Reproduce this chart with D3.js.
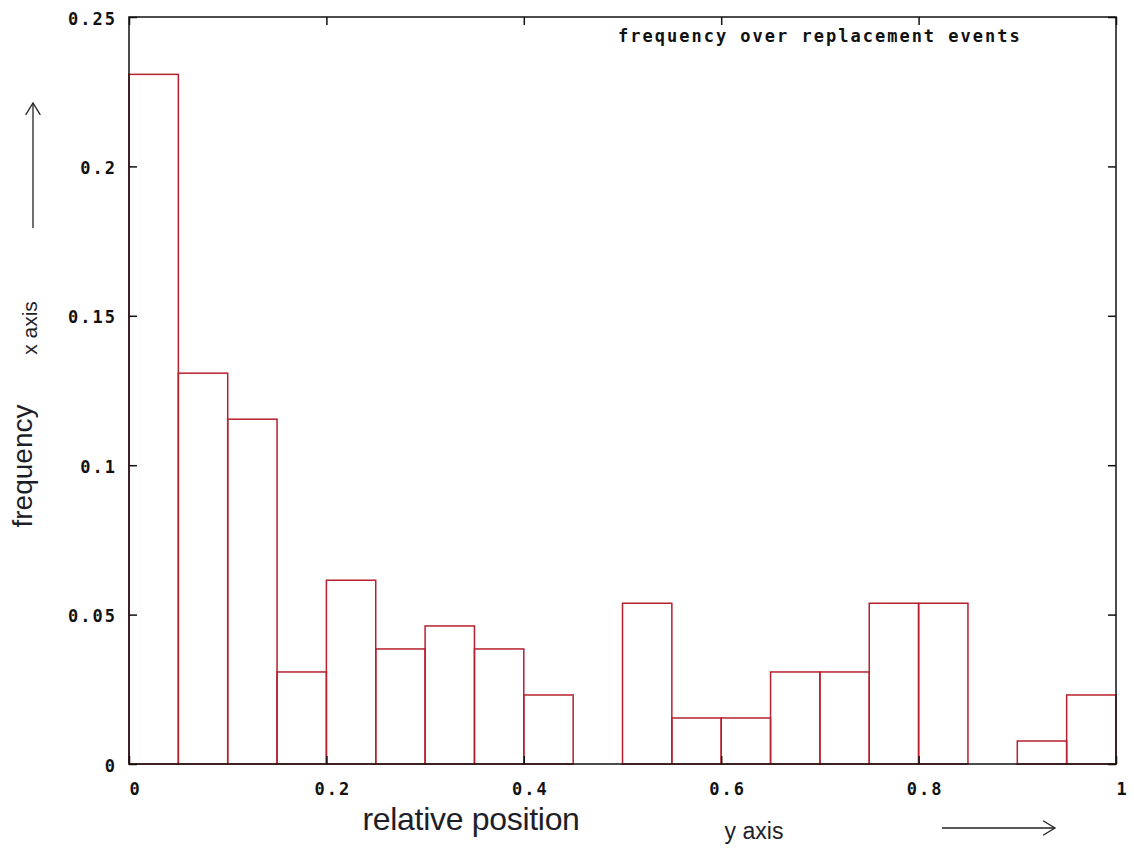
<!DOCTYPE html>
<html>
<head>
<meta charset="utf-8">
<script src="https://cdn.jsdelivr.net/npm/d3@7"></script>
<style>
  html, body { margin: 0; padding: 0; background: #fff; }
  svg { display: block; }
  .tick text, .title { font-family: "DejaVu Sans Mono", monospace; font-weight: bold; font-size: 17px; letter-spacing: 2px; fill: #111; }
  .lbl { font-family: "Liberation Sans", Arial, sans-serif; fill: #1e1e28; }
</style>
</head>
<body>
<script>
// ---- data ----
const binStarts = [0, 0.05, 0.1, 0.15, 0.2, 0.25, 0.3, 0.35, 0.4, 0.45, 0.5, 0.55, 0.6, 0.65, 0.7, 0.75, 0.8, 0.85, 0.9, 0.95];
const binWidth = 0.05;
const frequency = [0.2308, 0.1308, 0.1154, 0.0308, 0.0615, 0.0385, 0.0462, 0.0385, 0.0231, 0.0, 0.0538, 0.0154, 0.0154, 0.0308, 0.0308, 0.0538, 0.0538, 0.0, 0.0077, 0.0231];
const yTicks = [0, 0.05, 0.1, 0.15, 0.2, 0.25];
const yTickLabels = ["0", "0.05", "0.1", "0.15", "0.2", "0.25"];
const xTicks = [0, 0.2, 0.4, 0.6, 0.8, 1];
const xTickLabels = ["0", "0.2", "0.4", "0.6", "0.8", "1"];
const titleText = "frequency over replacement events";

// ---- layout ----
const W = 1134, H = 850;
const mLeft = 129, mRight = 1116, mTop = 17, mBottom = 764;

const svg = d3.select("body").append("svg").attr("width", W).attr("height", H);

const x = d3.scaleLinear().domain([0, 1]).range([mLeft, mRight]);
const y = d3.scaleLinear().domain([0, 0.25]).range([mBottom, mTop]);

// bars
svg.append("g").selectAll("rect").data(binStarts).join("rect")
  .attr("x", d => x(d))
  .attr("width", (d) => x(d + binWidth) - x(d))
  .attr("y", (d, i) => y(frequency[i]))
  .attr("height", (d, i) => y(0) - y(frequency[i]))
  .attr("fill", "none")
  .attr("stroke", "#b8202e")
  .attr("stroke-width", 1.5);

// axes (ticks inward)
const yFmt = (d) => yTickLabels[yTicks.indexOf(d)];
const xFmt = (d) => xTickLabels[xTicks.indexOf(d)];

const gl = svg.append("g").attr("transform", `translate(${mLeft},0)`)
  .call(d3.axisLeft(y).tickValues(yTicks).tickFormat(yFmt).tickSize(-8).tickPadding(12));
const gr = svg.append("g").attr("transform", `translate(${mRight},0)`)
  .call(d3.axisRight(y).tickValues(yTicks).tickFormat("").tickSize(-8));
const gb = svg.append("g").attr("transform", `translate(0,${mBottom})`)
  .call(d3.axisBottom(x).tickValues(xTicks).tickFormat(xFmt).tickSize(-8).tickPadding(16));
const gt = svg.append("g").attr("transform", `translate(0,${mTop})`)
  .call(d3.axisTop(x).tickValues(xTicks).tickFormat("").tickSize(-8));

[gl, gr, gb, gt].forEach(g => {
  g.select(".domain").remove();
  g.selectAll(".tick line").attr("stroke", "#111").attr("stroke-width", 1.5);
  g.attr("font-family", null).attr("font-size", null);
});
gl.selectAll(".tick text").attr("dy", "0.42em").attr("x", -12);
gb.selectAll(".tick text").attr("dx", 6).attr("dy", "0.9em");

// border
svg.append("rect")
  .attr("x", mLeft).attr("y", mTop)
  .attr("width", mRight - mLeft).attr("height", mBottom - mTop)
  .attr("fill", "none").attr("stroke", "#111").attr("stroke-width", 1.5);

// title (key)
svg.append("text").attr("class", "title")
  .attr("x", 618).attr("y", 42)
  .text(titleText);

// axis labels
svg.append("text").attr("class", "lbl")
  .attr("x", 471).attr("y", 830)
  .attr("text-anchor", "middle")
  .attr("font-size", 32)
  .attr("letter-spacing", "-0.3px")
  .text("relative position");

svg.append("text").attr("class", "lbl")
  .attr("x", 754).attr("y", 839)
  .attr("text-anchor", "middle")
  .attr("font-size", 23)
  .text("y axis");

svg.append("text").attr("class", "lbl")
  .attr("transform", "translate(32,466) rotate(-90)")
  .attr("text-anchor", "middle")
  .attr("font-size", 28)
  .text("frequency");

svg.append("text").attr("class", "lbl")
  .attr("transform", "translate(37,328) rotate(-90)")
  .attr("text-anchor", "middle")
  .attr("font-size", 21)
  .text("x axis");

// arrows
function arrow(x1, y1, x2, y2) {
  const g = svg.append("g").attr("stroke", "#222").attr("stroke-width", 1.3).attr("fill", "none");
  g.append("line").attr("x1", x1).attr("y1", y1).attr("x2", x2).attr("y2", y2);
  const ang = Math.atan2(y2 - y1, x2 - x1);
  const L = 14, a = 0.55;
  const p1 = [x2 - L * Math.cos(ang - a), y2 - L * Math.sin(ang - a)];
  const p2 = [x2 - L * Math.cos(ang + a), y2 - L * Math.sin(ang + a)];
  g.append("polyline").attr("points", `${p1[0]},${p1[1]} ${x2},${y2} ${p2[0]},${p2[1]}`);
}
arrow(33, 228, 33, 103);
arrow(942, 828, 1055, 828);
</script>
</body>
</html>
